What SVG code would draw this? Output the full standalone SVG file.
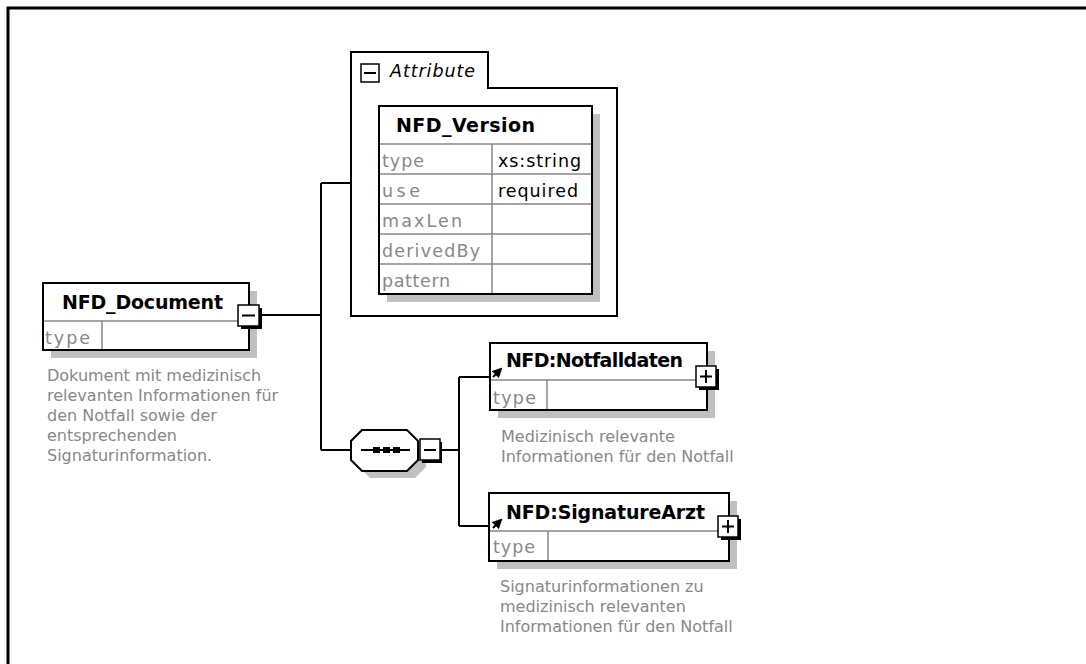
<svg xmlns="http://www.w3.org/2000/svg" width="1086" height="664" viewBox="0 0 1086 664">
<style>
.bg{fill:#fff}
.frame{fill:none;stroke:#000;stroke-width:3}
.box{fill:#fff;stroke:#000;stroke-width:2}
.shadow{fill:#c0c0c0}
.div{stroke:#888;stroke-width:1.5;fill:none}
.conn{stroke:#000;stroke-width:2;fill:none}
.hdr{font-family:"DejaVu Sans",sans-serif;font-weight:bold;font-size:19px;fill:#000}
.lbl{font-family:"DejaVu Sans",sans-serif;font-size:17.5px;fill:#888}
.val{font-family:"DejaVu Sans",sans-serif;font-size:17.5px;fill:#000}
.desc{font-family:"DejaVu Sans",sans-serif;font-size:16px;fill:#888}
.ital{font-family:"DejaVu Sans",sans-serif;font-style:italic;font-size:17.5px;fill:#000}
.btn{fill:#fff;stroke:#000;stroke-width:1.5}
.btnsh{fill:#000}
.sym{stroke:#000;stroke-width:2;fill:none}
</style>
<defs>
<marker id="ah" viewBox="0 0 10 10" refX="8" refY="5" markerWidth="5" markerHeight="5" orient="auto"><path d="M0,0 L10,5 L0,10 z" fill="#000"/></marker>
</defs>
<rect class="bg" x="0" y="0" width="1086" height="664"/>
<path class="frame" d="M8 664 V8 H1086"/>

<g id="connectors">
<path class="conn" d="M262 315 H321"/>
<path class="conn" d="M321 183 V450"/>
<path class="conn" d="M321 183 H351"/>
<path class="conn" d="M321 450 H351"/>
<path class="conn" d="M442 450 H459"/>
<path class="conn" d="M459 377 V526"/>
<path class="conn" d="M459 377 H490"/>
<path class="conn" d="M459 526 H489"/>
</g>

<g id="attribute-group">
<path class="box" d="M351 316 V52 H488 V88 H617 V316 Z"/>
<rect class="btn" x="361" y="64" width="18" height="18" stroke-width="2.5"/>
<path class="sym" d="M364 73 H376"/>
<text class="ital" x="390" y="77" textLength="85">Attribute</text>
</g>

<g id="NFD_Version">
<rect class="shadow" x="387" y="114" width="213" height="188"/>
<rect class="box" x="379" y="106" width="213" height="188"/>
<path class="div" d="M379 144 H592 M379 174 H592 M379 204 H592 M379 234 H592 M379 264 H592 M492 144 V294"/>
<rect fill="none" stroke="#000" stroke-width="2" x="379" y="106" width="213" height="188"/>
<text class="hdr" x="396" y="132" textLength="139">NFD_Version</text>
<text class="lbl" x="382" y="167" textLength="42">type</text>
<text class="val" x="498" y="167" textLength="83">xs:string</text>
<text class="lbl" x="382" y="197" textLength="38">use</text>
<text class="val" x="498" y="197" textLength="80">required</text>
<text class="lbl" x="382" y="227" textLength="80">maxLen</text>
<text class="lbl" x="382" y="257" textLength="98">derivedBy</text>
<text class="lbl" x="382" y="287" textLength="68">pattern</text>
</g>

<g id="NFD_Document">
<rect class="shadow" x="51" y="291" width="206" height="67"/>
<rect class="box" x="43" y="283" width="206" height="67"/>
<path class="div" d="M44 321 H248 M102 321 V349"/>
<text class="hdr" x="62" y="309" textLength="161">NFD_Document</text>
<text class="lbl" x="45" y="344" textLength="45">type</text>
<rect class="btnsh" x="241" y="308" width="21" height="21"/>
<rect class="btn" x="238" y="305" width="21" height="21"/>
<path class="sym" d="M242 315.5 H255"/>
<text class="desc" x="47" y="381">Dokument mit medizinisch</text>
<text class="desc" x="47" y="401">relevanten Informationen für</text>
<text class="desc" x="47" y="421">den Notfall sowie der</text>
<text class="desc" x="47" y="441">entsprechenden</text>
<text class="desc" x="47" y="461">Signaturinformation.</text>
</g>

<g id="sequence">
<polygon class="shadow" points="370,437 415,437 426,448 426,467 415,478 370,478 359,467 359,448"/>
<polygon class="box" points="362,430 407,430 418,441 418,460 407,471 362,471 351,460 351,441"/>
<path class="conn" d="M361 450 H410"/>
<rect x="373" y="447" width="7" height="6" fill="#000"/>
<rect x="383" y="447" width="7" height="6" fill="#000"/>
<rect x="393" y="447" width="7" height="6" fill="#000"/>
<rect class="btnsh" x="422" y="442" width="20" height="21"/>
<rect class="btn" x="420" y="439" width="20" height="21"/>
<path class="sym" d="M424 450 H436"/>
</g>

<g id="NFD_Notfalldaten">
<rect class="shadow" x="498" y="351" width="217" height="67"/>
<rect class="box" x="490" y="343" width="217" height="67"/>
<path class="div" d="M491 380 H706 M547 380 V409"/>
<path d="M493 377 L501 369" stroke="#000" stroke-width="2" marker-end="url(#ah)"/>
<text class="hdr" x="506" y="367" textLength="177">NFD:Notfalldaten</text>
<text class="lbl" x="493" y="404" textLength="43">type</text>
<rect class="btnsh" x="699" y="369" width="20" height="21"/>
<rect class="btn" x="696" y="366" width="20" height="21"/>
<path class="sym" d="M700 376.5 H712 M706 370 V383"/>
<text class="desc" x="501" y="442">Medizinisch relevante</text>
<text class="desc" x="501" y="462">Informationen für den Notfall</text>
</g>

<g id="NFD_SignatureArzt">
<rect class="shadow" x="497" y="501" width="240" height="68"/>
<rect class="box" x="489" y="493" width="240" height="68"/>
<path class="div" d="M490 531 H728 M548 531 V560"/>
<path d="M493 528 L501 520" stroke="#000" stroke-width="2" marker-end="url(#ah)"/>
<text class="hdr" x="506" y="519" textLength="199">NFD:SignatureArzt</text>
<text class="lbl" x="493" y="553" textLength="42">type</text>
<rect class="btnsh" x="721" y="519" width="20" height="21"/>
<rect class="btn" x="718" y="516" width="20" height="21"/>
<path class="sym" d="M722 526.5 H734 M728 520 V533"/>
<text class="desc" x="500" y="592">Signaturinformationen zu</text>
<text class="desc" x="500" y="612">medizinisch relevanten</text>
<text class="desc" x="500" y="632">Informationen für den Notfall</text>
</g>
</svg>
